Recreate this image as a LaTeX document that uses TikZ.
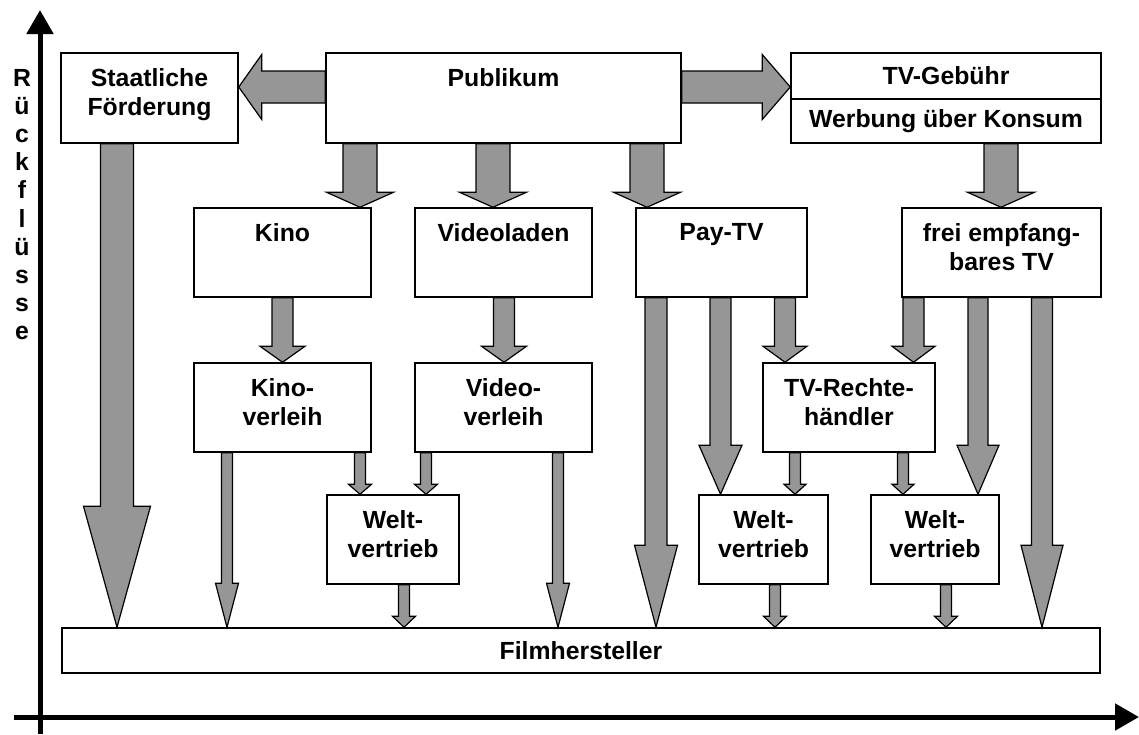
\documentclass[tikz,border=0pt]{standalone}
\usepackage{fontspec}
\setmainfont{Liberation Sans}
\usepackage{tikz}
\usetikzlibrary{calc}
\usetikzlibrary{arrows.meta}
\definecolor{flowgray}{RGB}{150,150,150}
\tikzset{box/.style = {shape=rectangle,draw,fill=white,line width=0.75pt,inner sep=0pt,minimum height=44.5pt}}
\tikzset{boxtext/.style = {anchor=north,yshift=-7.9pt,align=center,inner sep=0pt}}
\tikzset{flow/.style = {draw,fill=flowgray,line width=0.6pt}}
\tikzset{axis/.style = {line width=2.5pt,-{Triangle[length=12pt,width=13pt]}}}
% fat arrow: shaft, head width, head length (px), from, to
\newcommand{\flowarrow}[5]{%
  \path (#4) coordinate (fs) (#5) coordinate (ft);
  \path ($(ft)!#3*0.5pt!(fs)$) coordinate (fh);
  \filldraw[flow] ($(fs)!#1*0.25pt!90:(ft)$) -- ($(fh)!#1*0.25pt!90:(ft)$)
    -- ($(fh)!#2*0.25pt!90:(ft)$) -- (ft) -- ($(fh)!#2*0.25pt!-90:(ft)$)
    -- ($(fh)!#1*0.25pt!-90:(ft)$) -- ($(fs)!#1*0.25pt!-90:(ft)$) -- cycle;
}

\begin{document}
\begin{tikzpicture}[x=0.5pt,y=-0.5pt,font=\fontsize{12.4}{14.5}\selectfont\bfseries]
            \useasboundingbox (0,0) rectangle (1139,734);

            % Axes
            \coordinate (ybottom) at (40,734);
            \coordinate (ytop) at (40,10);
            \coordinate (xleft) at (14,717);
            \coordinate (xright) at (1139,717);
            \draw[axis] (ybottom) -- (ytop);
            \draw[axis] (xleft) -- (xright);
            \node[inner sep=0pt,align=center,font=\fontsize{12.4}{14.05}\selectfont\bfseries] (returns) at (22,204.6) {R\\ü\\c\\k\\f\\l\\ü\\s\\s\\e};

            % Boxes
            \node[box,minimum width=88.5pt,minimum height=45pt,label={[boxtext]north:Staatliche\\Förderung}] (fund) at (149.5,98) {};
            \node[box,minimum width=177.5pt,minimum height=45pt,label={[boxtext]north:Publikum}] (audience) at (503.5,98) {};
            \node[box,minimum width=155pt,minimum height=23pt] (tvfee) at (946,76) {TV-Gebühr};
            \node[box,minimum width=155pt,minimum height=22pt] (ads) at (946,121) {Werbung über Konsum};

            \node[box,minimum width=88.5pt,label={[boxtext]north:Kino}] (cinema) at (282.5,252.5) {};
            \node[box,minimum width=88.5pt,label={[boxtext]north:Videoladen}] (videoshop) at (503.5,252.5) {};
            \node[box,minimum width=85.5pt,label={[boxtext]north:Pay-TV}] (paytv) at (721.5,252.5) {};
            \node[box,minimum width=99.5pt,label={[boxtext]north:frei empfang-\\bares TV}] (freetv) at (1001.5,252.5) {};

            \node[box,minimum width=88.5pt,label={[boxtext]north:Kino-\\verleih}] (cinemadist) at (282.5,407.5) {};
            \node[box,minimum width=88.5pt,label={[boxtext]north:Video-\\verleih}] (videodist) at (503.5,407.5) {};
            \node[box,minimum width=86pt,label={[boxtext]north:TV-Rechte-\\händler}] (rights) at (849,407.5) {};

            \node[box,minimum width=66pt,label={[boxtext]north:Welt-\\vertrieb}] (world1) at (393,539.5) {};
            \node[box,minimum width=64.5pt,label={[boxtext]north:Welt-\\vertrieb}] (world2) at (763.5,539.5) {};
            \node[box,minimum width=64pt,label={[boxtext]north:Welt-\\vertrieb}] (world3) at (935,539.5) {};

            \node[box,minimum width=519pt,minimum height=22.5pt] (producer) at (581,650.5) {Filmhersteller};

            % Flows
            % audience
            \flowarrow{32}{65}{23}{audience.west |- 0,87}{fund.east |- 0,87}
            \flowarrow{32}{65}{28}{audience.east |- 0,87}{tvfee.west |- 0,87}
            \flowarrow{34}{67}{15}{audience.south -| 360,0}{cinema.north -| 360,0}
            \flowarrow{34}{67}{15}{audience.south -| 493,0}{videoshop.north -| 493,0}
            \flowarrow{34}{67}{15}{audience.south -| 647,0}{paytv.north -| 647,0}

            % fees and ads
            \flowarrow{34}{67}{15}{ads.south -| 1001,0}{freetv.north -| 1001,0}

            % fund
            \flowarrow{33}{67}{121}{fund.south -| 117,0}{producer.north -| 117,0}

            % cinema, video
            \flowarrow{21}{45}{16}{cinema.south -| 282.5,0}{cinemadist.north -| 282.5,0}
            \flowarrow{21}{45}{16}{videoshop.south -| 504,0}{videodist.north -| 504,0}
            \flowarrow{11}{23}{44}{cinemadist.south -| 227,0}{producer.north -| 227,0}
            \flowarrow{11}{23}{10}{cinemadist.south -| 360,0}{world1.north -| 360,0}
            \flowarrow{11}{23}{10}{videodist.south -| 426,0}{world1.north -| 426,0}
            \flowarrow{11}{23}{44}{videodist.south -| 558,0}{producer.north -| 558,0}
            \flowarrow{11}{23}{11}{world1.south -| 404,0}{producer.north -| 404,0}

            % pay-tv
            \flowarrow{22}{43}{82}{paytv.south -| 656,0}{producer.north -| 656,0}
            \flowarrow{21}{43}{49}{paytv.south -| 720.5,0}{world2.north -| 720.5,0}
            \flowarrow{21}{44}{16}{paytv.south -| 785,0}{rights.north -| 785,0}

            % free tv
            \flowarrow{21}{43}{16}{freetv.south -| 913.5,0}{rights.north -| 913.5,0}
            \flowarrow{20}{42}{49}{freetv.south -| 978,0}{world3.north -| 978,0}
            \flowarrow{21}{42}{82}{freetv.south -| 1042,0}{producer.north -| 1042,0}

            % rights
            \flowarrow{11}{22}{10}{rights.south -| 795,0}{world2.north -| 795,0}
            \flowarrow{11}{22}{10}{rights.south -| 903,0}{world3.north -| 903,0}
            \flowarrow{11}{23}{11}{world2.south -| 775,0}{producer.north -| 775,0}
            \flowarrow{11}{23}{11}{world3.south -| 946,0}{producer.north -| 946,0}
        \end{tikzpicture}
\end{document}
